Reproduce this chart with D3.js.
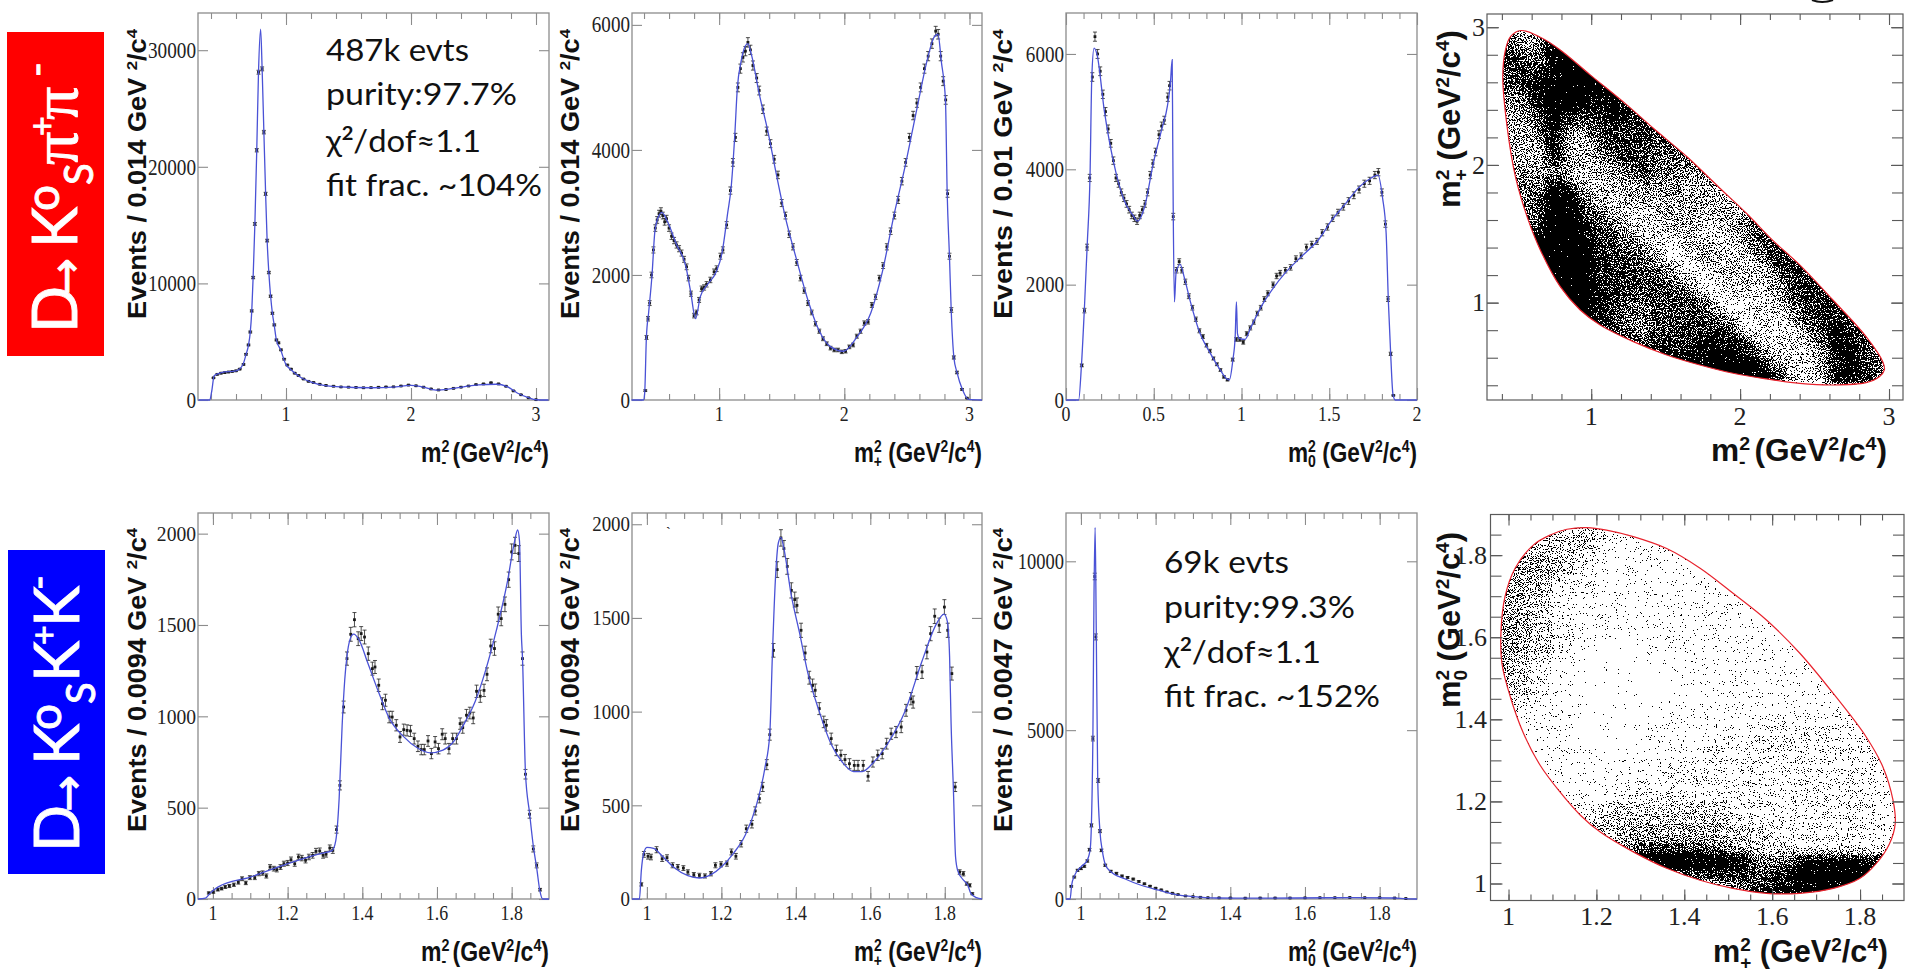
<!DOCTYPE html>
<html>
<head>
<meta charset="utf-8">
<script src="https://cdn.jsdelivr.net/npm/d3@7"></script>
<style>
  html, body { margin: 0; background: #fff; }
  svg { display: block; }
  .tick-label { font-family: "Liberation Serif", serif; fill: #222; }
  .bold-label { font-family: "Liberation Sans", Arial, sans-serif; font-weight: bold; fill: #111; }
  .note { font-family: Lato, "Open Sans", sans-serif; fill: #111; }
</style>
</head>
<body>
<div id="container"></div>
<script>
/* DATA */

// D -> Ks pi+ pi-, m-^2
const pipiMinusFitX = [0.3,0.39,0.405,0.426,0.483,0.6,0.654,0.68,0.70,0.714,0.726,0.737,0.751,0.766,0.78,0.797,0.809,0.823,0.837,0.849,0.863,0.877,0.891,0.906,0.923,0.957,0.997,1.04,1.11,1.226,1.4,1.68,1.854,2.0,2.08,2.2,2.31,2.43,2.54,2.68,2.77,2.85,2.94,3.0,3.1];
const pipiMinusFitY = [0,0,700,2100,2350,2500,3000,3900,4700,5800,7600,10500,15100,21400,28100,31800,28400,23000,17700,13700,10900,8900,7450,6400,5150,4300,3100,2600,2000,1450,1150,1050,1100,1250,1150,850,950,1150,1300,1350,1150,600,200,20,0];
const pipiMinusDataX = [0.42,0.45,0.48,0.51,0.54,0.57,0.6,0.63,0.66,0.68,0.70,0.714,0.726,0.737,0.751,0.766,0.78,0.809,0.823,0.837,0.849,0.863,0.877,0.891,0.906,0.923,0.94,0.96,0.985,1.01,1.04,1.07,1.1,1.14,1.18,1.22,1.27,1.32,1.38,1.44,1.5,1.56,1.62,1.68,1.74,1.8,1.86,1.92,1.98,2.04,2.1,2.16,2.22,2.28,2.34,2.4,2.46,2.52,2.58,2.64,2.7,2.76,2.82,2.88,2.94,3.0];
const pipiMinusDataY = [1900,2200,2300,2350,2400,2450,2500,2650,3050,3920,4720,5830,7640,10500,15100,21420,28110,28400,22970,17680,13670,10930,8900,7440,6440,5150,4900,4300,3500,3000,2650,2300,2100,1800,1600,1500,1350,1250,1180,1120,1100,1080,1050,1060,1090,1120,1130,1200,1280,1220,1100,950,860,900,1000,1100,1200,1320,1380,1480,1380,1180,780,450,190,30];

// D -> Ks pi+ pi-, m+^2
const pipiPlusFitX = [0.3,0.395,0.405,0.419,0.437,0.464,0.487,0.519,0.542,0.588,0.657,0.735,0.771,0.812,0.849,0.908,0.977,1.023,1.069,1.096,1.124,1.146,1.174,1.206,1.229,1.261,1.32,1.389,1.458,1.526,1.618,1.709,1.801,1.892,1.993,2.098,2.213,2.304,2.396,2.487,2.579,2.67,2.716,2.748,2.776,2.808,2.822,2.84,2.854,2.876,2.899,2.945,2.991,3.1];
const pipiPlusFitY = [0,0,100,1000,1400,2000,2700,2950,3000,2850,2500,2130,1750,1300,1650,1850,2050,2350,3000,3400,4200,5000,5400,5650,5700,5500,4900,4300,3600,2950,2250,1600,1100,850,780,1000,1400,2050,2950,3750,4650,5500,5800,5850,5400,4800,3300,2300,1440,670,450,160,10,0];
const pipiPlusDataX = [0.41,0.42,0.432,0.445,0.46,0.475,0.49,0.505,0.52,0.535,0.55,0.565,0.58,0.6,0.62,0.64,0.66,0.68,0.7,0.72,0.74,0.755,0.775,0.8,0.82,0.84,0.86,0.88,0.9,0.93,0.96,0.98,1.01,1.03,1.06,1.09,1.11,1.13,1.15,1.17,1.19,1.21,1.23,1.25,1.27,1.3,1.32,1.35,1.38,1.41,1.44,1.47,1.5,1.53,1.56,1.59,1.62,1.65,1.68,1.71,1.74,1.77,1.8,1.83,1.86,1.89,1.92,1.95,1.98,2.01,2.04,2.07,2.1,2.13,2.16,2.19,2.22,2.25,2.28,2.31,2.34,2.37,2.4,2.43,2.46,2.49,2.52,2.55,2.58,2.61,2.64,2.67,2.7,2.73,2.75,2.77,2.79,2.81,2.825,2.84,2.855,2.875,2.9,2.94,2.98];
const pipiPlusDataY = [150,1000,1300,1550,2000,2400,2750,2880,2980,3020,2950,2850,2900,2750,2620,2550,2480,2420,2350,2250,2130,1950,1700,1350,1400,1600,1780,1800,1850,1920,2050,2100,2300,2400,2800,3350,3800,4200,5000,5300,5480,5580,5720,5600,5350,5150,4950,4650,4300,4100,3850,3600,3150,2950,2650,2450,2200,1950,1750,1550,1400,1220,1100,980,900,830,800,800,770,780,850,880,1020,1100,1230,1250,1520,1650,1950,2150,2450,2700,2950,3200,3500,3800,4200,4550,4750,5000,5300,5500,5700,5900,5850,5500,5100,4800,3300,2300,1440,680,440,170,30];

// D -> Ks pi+ pi-, m0^2
const pipiZeroFitX = [0,0.072,0.088,0.105,0.121,0.137,0.147,0.16,0.176,0.219,0.284,0.333,0.382,0.408,0.448,0.497,0.546,0.578,0.595,0.605,0.608,0.611,0.618,0.627,0.65,0.676,0.709,0.758,0.824,0.873,0.915,0.931,0.951,0.964,0.971,0.977,0.987,1.02,1.052,1.118,1.183,1.248,1.346,1.444,1.51,1.592,1.673,1.739,1.778,1.804,1.824,1.837,1.85,1.863,1.876,2];
const pipiZeroFitY = [0,0,600,1600,2700,3900,5600,6100,6000,5000,3950,3450,3200,3100,3350,4100,4700,5100,5500,5900,4600,3300,1700,2200,2350,2100,1700,1200,800,550,370,350,700,1100,1700,1150,1070,1050,1250,1650,1950,2200,2500,2800,3100,3400,3700,3850,3900,3500,2900,1700,800,100,0,0];
const pipiZeroDataX = [0.09,0.105,0.12,0.135,0.15,0.165,0.18,0.195,0.21,0.225,0.24,0.255,0.27,0.285,0.3,0.315,0.33,0.345,0.36,0.375,0.39,0.405,0.42,0.435,0.45,0.465,0.48,0.495,0.51,0.53,0.545,0.56,0.58,0.59,0.611,0.63,0.645,0.66,0.68,0.7,0.72,0.74,0.76,0.78,0.8,0.82,0.84,0.86,0.88,0.9,0.92,0.95,0.97,0.99,1.01,1.03,1.05,1.07,1.09,1.11,1.13,1.15,1.18,1.2,1.22,1.25,1.28,1.31,1.34,1.37,1.4,1.43,1.46,1.49,1.52,1.55,1.58,1.61,1.64,1.67,1.7,1.73,1.76,1.78,1.8,1.82,1.835,1.85,1.865];
const pipiZeroDataY = [600,1550,2650,3850,5600,6300,6000,5700,5300,5000,4700,4450,4150,3850,3750,3600,3500,3400,3300,3200,3150,3100,3200,3300,3400,3600,3900,4100,4300,4600,4750,4850,5250,5450,3180,2250,2400,2250,2050,1800,1600,1400,1200,1100,950,850,720,620,520,400,350,700,1050,1050,1000,1150,1250,1350,1500,1600,1750,1850,2000,2150,2200,2250,2300,2450,2500,2650,2700,2750,2900,3000,3150,3250,3350,3450,3550,3650,3750,3800,3900,3950,3600,3050,1750,800,80];

// D -> Ks K+ K-, m-^2
const kkMinusFitX = [0.96,0.98,0.994,1.013,1.1,1.195,1.29,1.319,1.329,1.338,1.346,1.353,1.359,1.367,1.377,1.391,1.415,1.444,1.472,1.51,1.549,1.582,1.616,1.644,1.673,1.702,1.73,1.759,1.788,1.807,1.816,1.821,1.826,1.829,1.837,1.848,1.858,1.867,1.876,1.883,1.9];
const kkMinusFitY = [0,5,35,65,120,190,250,265,320,550,950,1200,1330,1420,1450,1420,1290,1130,990,890,825,800,815,860,960,1080,1250,1470,1730,1950,2020,1960,1450,1320,690,470,290,170,40,0,0];
const kkMinusDataX = [0.989,1.001,1.013,1.023,1.033,1.044,1.056,1.068,1.078,1.088,1.099,1.112,1.123,1.133,1.143,1.153,1.163,1.171,1.181,1.19,1.2,1.209,1.219,1.229,1.238,1.248,1.257,1.267,1.276,1.286,1.295,1.303,1.313,1.321,1.331,1.34,1.35,1.359,1.369,1.379,1.389,1.397,1.406,1.416,1.427,1.434,1.444,1.454,1.462,1.472,1.48,1.491,1.501,1.511,1.52,1.529,1.539,1.549,1.558,1.566,1.576,1.585,1.595,1.604,1.614,1.622,1.632,1.642,1.652,1.662,1.669,1.679,1.688,1.697,1.706,1.716,1.726,1.734,1.744,1.754,1.764,1.772,1.782,1.792,1.8,1.809,1.819,1.829,1.837,1.848,1.858,1.867,1.876];
const kkMinusDataY = [33,38,51,57,66,71,78,91,111,88,117,117,139,142,126,175,166,161,175,193,197,215,193,230,224,212,230,239,261,263,239,245,279,266,380,622,1051,1316,1449,1529,1425,1453,1434,1343,1261,1270,1170,1069,1088,996,996,951,887,927,923,920,878,836,818,818,865,796,860,823,902,878,823,878,878,960,938,1006,1018,991,1137,1110,1142,1230,1385,1371,1559,1535,1613,1748,1900,1936,1891,1316,683,464,274,184,51];

// D -> Ks K+ K-, m+^2
const kkPlusFitX = [0.96,0.98,0.985,0.991,1.0,1.018,1.041,1.072,1.11,1.141,1.172,1.202,1.233,1.264,1.294,1.317,1.33,1.337,1.345,1.353,1.36,1.368,1.387,1.41,1.433,1.463,1.494,1.525,1.555,1.578,1.609,1.647,1.693,1.739,1.778,1.798,1.807,1.813,1.817,1.823,1.829,1.835,1.847,1.862,1.87,1.885,1.9];
const kkPlusFitY = [0,0,150,240,275,270,230,170,125,112,130,175,245,340,500,700,880,1300,1700,1900,1930,1870,1630,1420,1200,1000,830,730,680,680,730,830,1000,1270,1470,1520,1480,1290,936,598,224,150,108,73,30,7,0];
const kkPlusDataX = [0.985,0.992,1.003,1.011,1.026,1.041,1.054,1.069,1.083,1.098,1.11,1.126,1.141,1.156,1.172,1.184,1.199,1.215,1.227,1.239,1.253,1.267,1.282,1.291,1.302,1.311,1.322,1.33,1.34,1.35,1.36,1.368,1.377,1.388,1.397,1.403,1.414,1.425,1.436,1.445,1.452,1.463,1.475,1.482,1.495,1.509,1.521,1.532,1.544,1.557,1.567,1.581,1.594,1.607,1.62,1.632,1.644,1.656,1.669,1.683,1.696,1.709,1.715,1.725,1.739,1.752,1.762,1.773,1.785,1.799,1.808,1.819,1.828,1.84,1.85,1.859,1.867,1.874];
const kkPlusDataY = [78,238,228,224,263,215,221,180,171,165,144,130,126,123,135,180,185,189,251,228,295,375,399,470,536,598,717,877,1327,1758,1927,1870,1775,1647,1598,1567,1434,1313,1181,1140,1114,1016,945,927,856,793,767,744,722,713,713,713,655,731,767,776,829,882,891,918,1007,1069,1051,1206,1212,1318,1416,1509,1461,1558,1434,1203,598,144,135,82,73,28];

// D -> Ks K+ K-, m0^2
const kkZeroFitX = [0.96,0.971,0.975,0.983,1.0,1.017,1.025,1.028,1.032,1.035,1.038,1.041,1.045,1.051,1.057,1.066,1.078,1.117,1.163,1.209,1.255,1.301,1.362,1.424,1.578,1.731,1.839,1.869,1.9];
const kkZeroFitY = [0,0,400,700,950,1150,1500,2200,4800,9000,11000,8000,3500,2000,1450,1000,830,600,400,260,130,70,30,25,30,40,30,10,0];
const kkZeroDataX = [0.974,0.982,0.991,1.0,1.009,1.017,1.023,1.028,1.032,1.037,1.04,1.046,1.051,1.055,1.065,1.08,1.095,1.11,1.125,1.14,1.155,1.17,1.185,1.2,1.215,1.23,1.245,1.26,1.28,1.3,1.32,1.34,1.37,1.4,1.44,1.48,1.52,1.56,1.6,1.64,1.68,1.72,1.76,1.8,1.84,1.87];
const kkZeroDataY = [375,650,850,900,970,1125,1460,2180,4750,9550,7760,3510,2010,1440,1000,820,760,680,640,590,520,450,380,320,270,210,170,130,90,70,50,40,35,30,25,30,30,30,35,40,40,45,40,40,30,15];

// Dalitz plot boundaries, [x, y] in GeV2/c4
const pipiBoundary = [[0.529,2.976],[0.658,2.927],[0.792,2.835],[0.993,2.654],[1.239,2.436],[1.417,2.266],[1.641,2.061],[1.864,1.831],[2.042,1.649],[2.221,1.45],[2.4,1.274],[2.623,1.019],[2.846,0.753],[2.958,0.571],[2.969,0.511],[2.935,0.462],[2.846,0.419],[2.623,0.402],[2.4,0.414],[2.176,0.446],[1.953,0.487],[1.73,0.547],[1.507,0.62],[1.283,0.717],[1.06,0.838],[0.926,0.947],[0.792,1.116],[0.658,1.383],[0.569,1.625],[0.491,1.915],[0.435,2.278],[0.406,2.642],[0.424,2.835],[0.458,2.932]];
const kkBoundary = [[1.178,1.867],[1.223,1.861],[1.284,1.845],[1.36,1.816],[1.436,1.768],[1.511,1.707],[1.587,1.642],[1.663,1.561],[1.739,1.463],[1.814,1.357],[1.852,1.284],[1.875,1.203],[1.88,1.146],[1.867,1.097],[1.837,1.049],[1.799,1.012],[1.739,0.988],[1.663,0.976],[1.587,0.976],[1.511,0.988],[1.436,1.008],[1.36,1.037],[1.284,1.077],[1.208,1.126],[1.163,1.167],[1.117,1.223],[1.072,1.288],[1.034,1.366],[1.004,1.455],[0.985,1.536],[0.983,1.617],[0.992,1.699],[1.015,1.768],[1.057,1.825],[1.095,1.849],[1.133,1.863]];

// Dalitz plot event density, 0 (empty) to 9 (solid), estimated by eye per cell.
const pipiColEdges = [0.3,0.4,0.5,0.6,0.7,0.8,0.9,1.0,1.1,1.2,1.3,1.4,1.5,1.6,1.7,1.8,1.9,2.0,2.1,2.2,2.3,2.4,2.5,2.6,2.7,2.8,2.9,3.0,3.1];
const pipiRowEdges = [3.0,2.9,2.8,2.7,2.6,2.5,2.4,2.3,2.2,2.1,2.0,1.9,1.8,1.7,1.6,1.5,1.4,1.3,1.2,1.1,1.0,0.9,0.8,0.7,0.6,0.5,0.4];
const pipiDensity = [
  [5,5,3,4,8,9,9,8,8],
  [6,6,4,4,8,9,9,9,8,8],
  [7,7,6,5,8,9,9,9,8,8],
  [6,6,7,7,8,9,9,8,8,8,8],
  [5,5,6,8,9,9,9,8,8,8,8],
  [4,4,5,7,9,9,8,8,8,7,7,7],
  [3,3,4,6,8,7,6,7,8,7,7,7,7],
  [3,3,3,5,8,4,4,6,7,7,7,6,6,6],
  [3,3,3,3,8,3,3,5,7,7,6,6,6,6,6],
  [3,3,3,3,7,4,3,3,5,7,6,5,5,5,5,5],
  [4,4,4,3,4,3,2,3,3,5,7,5,4,4,4,4,4],
  [5,5,5,4,8,6,3,2,3,3,4,4,4,3,3,3,3,3],
  [5,5,5,6,9,9,5,3,2,3,3,3,3,3,3,3,3,3,3],
  [5,5,5,5,9,9,6,5,3,2,2,3,3,3,3,3,3,4,5,5],
  [6,6,6,6,9,9,8,6,5,3,2,2,3,3,2,2,3,5,6,6,6],
  [9,9,9,9,9,9,8,7,6,5,3,2,2,3,3,2,2,4,6,7,7,7],
  [9,9,9,9,9,9,9,7,6,6,5,3,1,2,3,3,2,3,5,7,7,7,7],
  [9,9,9,9,9,9,9,7,7,6,6,5,3,1,2,3,3,2,3,6,7,7,7,7],
  [9,9,9,9,9,9,9,7,7,6,6,6,5,3,1,2,3,3,2,4,6,7,7,7,7],
  [9,9,9,9,9,9,9,8,7,6,5,6,6,6,4,1,2,2,2,3,6,7,7,7,7,7],
  [9,9,9,9,9,9,9,7,6,5,5,6,6,6,6,4,1,2,2,2,4,7,7,7,7,7],
  [8,8,8,8,8,8,8,8,6,5,4,6,6,6,7,6,4,1,2,2,3,5,7,7,7,6,6],
  [6,6,6,6,6,6,6,6,6,6,5,6,6,7,7,7,7,4,2,2,2,3,6,8,7,6,6,6],
  [7,7,7,7,7,7,7,7,7,7,7,7,7,7,8,8,8,7,4,2,2,2,4,8,8,6,5,5],
  [8,8,8,8,8,8,8,8,8,8,8,8,8,8,8,8,9,9,7,4,2,2,3,7,8,6,5,5],
  [8,8,8,8,8,8,8,8,8,8,8,8,8,8,8,8,8,8,9,7,3,2,3,8,8,7,6,6]
];
const kkColEdges = [0.95,1.0,1.05,1.1,1.15,1.2,1.25,1.3,1.35,1.4,1.45,1.5,1.55,1.6,1.65,1.7,1.75,1.8,1.85,1.9];
const kkRowEdges = [1.9,1.85,1.8,1.75,1.7,1.65,1.6,1.55,1.5,1.45,1.4,1.35,1.3,1.25,1.2,1.15,1.1,1.07,1.04,1.01,0.98,0.95];
const kkDensity = [
  [3,3,3,3,3,2,2,1,1],
  [4,4,3,3,3,2,1,1,1,1],
  [4,4,4,3,2,1,1,1,1,1],
  [4,4,3,2,2,1,1,1,1,1,1],
  [4,4,3,2,1,1,1,1,1,1,1,1],
  [4,4,3,2,1,1,1,1,1,1,1,1,1],
  [4,4,3,2,1,0,0,1,1,1,1,1,1,1],
  [4,3,2,1,0,0,0,0,1,1,1,1,1,1,1],
  [4,3,2,1,0,0,0,0,0,1,1,1,1,1,1,1],
  [3,2,1,1,0,0,0,0,1,1,1,1,1,1,1,1,1],
  [1,1,1,1,0,0,0,1,1,1,1,1,2,2,2,2,2,2],
  [1,1,1,1,1,0,1,1,1,1,2,2,2,2,2,2,2,2,2],
  [1,1,1,1,1,1,1,1,2,2,2,2,2,2,2,2,2,2,2],
  [1,1,1,1,1,1,2,2,2,2,2,2,2,2,2,2,2,2,1],
  [2,2,2,2,2,3,3,3,3,3,3,2,2,2,2,2,2,2,1],
  [3,3,3,3,3,3,4,4,4,4,4,3,3,2,2,2,2,2,2],
  [5,5,5,5,5,5,5,6,6,6,5,4,3,3,2,2,2,2,2],
  [7,7,7,7,7,7,8,9,9,9,9,8,5,5,7,8,8,7,7],
  [9,9,9,9,9,9,9,8,7,6,7,7,6,7,9,9,9,9,9],
  [3,3,3,3,3,3,3,3,3,3,4,5,6,7,8,9,9,9,9],
  [3,3,3,3,3,3,3,3,3,3,4,5,7,8,8,9,9,9,9]
];

// tick labels
const pipiTicks = [1, 2, 3];
const pipiZeroTicks = [0, 0.5, 1, 1.5, 2];
const kkTicks = [1, 1.2, 1.4, 1.6, 1.8];

/* LAYOUT */
const width = 1905, height = 972;
const rowTop = { top: 13, bottom: 400 };
const rowBottom = { top: 513, bottom: 899 };
const colA = { left: 198, right: 549 };
const colB = { left: 632, right: 982 };
const colC = { left: 1066, right: 1417 };

const svg = d3.select("#container").append("svg")
  .attr("width", width).attr("height", height)
  .attr("viewBox", `0 0 ${width} ${height}`);
const defs = svg.append("defs");

const range = (a, b, s) => d3.range(a, b + s / 2, s).map(v => +v.toFixed(3));

function frameAxes(g, x, y, o) {
  const { left, right, top, bottom } = o.box;
  const color = o.color;
  // minor + major ticks on all four sides, all pointing inward
  const put = (axis, tr) => {
    const a = g.append("g").attr("transform", tr).call(axis);
    a.selectAll("text").remove();
    a.select(".domain").remove();
    a.selectAll("line").attr("stroke", color).attr("stroke-width", 1.1);
  };
  const xDom = x.domain(), yDom = y.domain();
  const xMinor = o.xMinor.filter(v => v >= xDom[0] && v <= xDom[1]);
  put(d3.axisBottom(x).tickValues(xMinor).tickSize(-o.minorLen), `translate(0,${bottom})`);
  put(d3.axisTop(x).tickValues(xMinor).tickSize(-o.minorLen), `translate(0,${top})`);
  put(d3.axisBottom(x).tickValues(o.xTicks).tickSize(-o.majorLen), `translate(0,${bottom})`);
  put(d3.axisTop(x).tickValues(o.xTicks).tickSize(-o.majorLen), `translate(0,${top})`);
  if (o.yMinor) {
    const yMinor = o.yMinor.filter(v => v >= yDom[0] && v <= yDom[1]);
    put(d3.axisLeft(y).tickValues(yMinor).tickSize(-o.yMinorLen), `translate(${left},0)`);
    put(d3.axisRight(y).tickValues(yMinor).tickSize(-o.yMinorLen), `translate(${right},0)`);
  }
  put(d3.axisLeft(y).tickValues(o.yTicks).tickSize(-o.yMajorLen), `translate(${left},0)`);
  put(d3.axisRight(y).tickValues(o.yTicks).tickSize(-o.yMajorLen), `translate(${right},0)`);

  g.append("rect").attr("x", left).attr("y", top)
    .attr("width", right - left).attr("height", bottom - top)
    .attr("fill", "none").attr("stroke", color).attr("stroke-width", o.frameWidth || 1.3);

  // tick labels
  g.selectAll(null).data(o.xTicks).join("text")
    .attr("class", "tick-label")
    .attr("x", d => x(d)).attr("y", o.xLabelY)
    .attr("text-anchor", "middle").attr("font-size", o.labelSize)
    .attr("transform", d => `translate(${x(d)},0) scale(${o.xSquash || 1},1) translate(${-x(d)},0)`)
    .text(d => d);
  const ySize = o.yLabelSize || o.labelSize;
  g.selectAll(null).data(o.yTicks).join("text")
    .attr("class", "tick-label")
    .attr("x", o.yLabelX).attr("y", d => y(d) + ySize * 0.33)
    .attr("text-anchor", "end").attr("font-size", ySize)
    .attr("transform", `translate(${o.yLabelX},0) scale(${o.ySquash || 1},1) translate(${-o.yLabelX},0)`)
    .text(d => d);
}

function eventsTitle(x, bottomY, topY, binWidth, size) {
  const t = svg.append("text").attr("class", "bold-label")
    .attr("transform", `translate(${x},${bottomY}) rotate(-90)`)
    .attr("font-size", size)
    .attr("textLength", bottomY - topY).attr("lengthAdjust", "spacingAndGlyphs");
  t.append("tspan").text(`Events / ${binWidth} GeV `);
  t.append("tspan").attr("font-size", size * 0.62).attr("dy", -size * 0.36).text("2");
  t.append("tspan").attr("dy", size * 0.36).text("/c");
  t.append("tspan").attr("font-size", size * 0.62).attr("dy", -size * 0.36).text("4");
}

// m^2 label with the charge sign stacked under the square
function massTitle(parent, sign, size, len, transform) {
  const t = parent.append("text").attr("class", "bold-label")
    .attr("transform", transform).attr("font-size", size)
    .attr("textLength", len).attr("lengthAdjust", "spacingAndGlyphs");
  const small = size * 0.62;
  t.append("tspan").text("m");
  t.append("tspan").attr("font-size", small).attr("dy", -size * 0.34).text("2");
  t.append("tspan").attr("font-size", small).attr("dx", -small * 0.56).attr("dy", size * 0.56).text(sign);
  t.append("tspan").attr("dy", -size * 0.22).text(" (GeV");
  t.append("tspan").attr("font-size", small).attr("dy", -size * 0.36).text("2");
  t.append("tspan").attr("dy", size * 0.36).text("/c");
  t.append("tspan").attr("font-size", small).attr("dy", -size * 0.36).text("4");
  t.append("tspan").attr("dy", size * 0.36).text(")");
}

function histogram(o) {
  const box = { ...o.col, ...o.row };
  const x = d3.scaleLinear().domain(o.xDomain).range([box.left, box.right]);
  const y = d3.scaleLinear().domain(o.yDomain).range([box.bottom, box.top]);
  const g = svg.append("g");

  frameAxes(g, x, y, {
    box, color: "#8c8c8c", xTicks: o.xTicks, xMinor: o.xMinor, yTicks: o.yTicks,
    majorLen: 12, minorLen: 6, yMajorLen: 10,
    labelSize: 21, yLabelSize: o.yLabelSize, xLabelY: box.bottom + 21.5, yLabelX: box.left - 2,
    xSquash: 0.85, ySquash: o.ySquash
  });

  const pts = d3.zip(o.dataX, o.dataY);
  // error bars: sqrt(N)
  g.append("g").selectAll("path").data(pts).join("path")
    .attr("d", d => {
      const s = Math.sqrt(d[1]);
      const px = x(d[0]), hi = y(d[1] + s), lo = y(d[1] - s);
      return `M${px},${hi}V${lo}M${px - 2},${hi}h4M${px - 2},${lo}h4`;
    })
    .attr("stroke", "#222").attr("stroke-width", 0.8).attr("fill", "none");
  g.append("g").selectAll("rect").data(pts).join("rect")
    .attr("x", d => x(d[0]) - 1.4).attr("y", d => y(d[1]) - 1.4)
    .attr("width", 2.8).attr("height", 2.8).attr("fill", "#1a1a1a");

  const line = d3.line().x(d => x(d[0])).y(d => y(d[1])).curve(d3.curveMonotoneX);
  g.append("path").datum(d3.zip(o.fitX, o.fitY)).attr("d", line)
    .attr("fill", "none").attr("stroke", "#4a52d6").attr("stroke-width", 1.3);

  eventsTitle(o.titleX, o.titleBottom, o.titleTop, o.binWidth, 25);
  massTitle(svg, o.sign, 27, box.right - o.massLeft, `translate(${o.massLeft},${box.bottom + 61.5})`);
}

// grey cells + noise, thresholded, give the stippled look of the scatter plots
function stippleFilter(id, freq, gain, seed, blur) {
  const f = defs.append("filter").attr("id", id)
    .attr("x", "-5%").attr("y", "-5%").attr("width", "110%").attr("height", "110%")
    .attr("color-interpolation-filters", "sRGB");
  f.append("feGaussianBlur").attr("in", "SourceGraphic").attr("stdDeviation", blur).attr("result", "soft");
  f.append("feTurbulence").attr("type", "fractalNoise").attr("baseFrequency", freq)
    .attr("numOctaves", 3).attr("seed", seed).attr("result", "raw");
  const off = 0.5 - gain * 0.5;
  f.append("feColorMatrix").attr("in", "raw").attr("type", "matrix")
    .attr("values", `${gain} 0 0 0 ${off} ${gain} 0 0 0 ${off} ${gain} 0 0 0 ${off} 0 0 0 0 1`)
    .attr("result", "grain");
  f.append("feComposite").attr("in", "soft").attr("in2", "grain").attr("operator", "arithmetic")
    .attr("k1", 0).attr("k2", 0.5).attr("k3", 0.5).attr("k4", 0).attr("result", "sum");
  const t = f.append("feComponentTransfer").attr("in", "sum");
  ["feFuncR", "feFuncG", "feFuncB"].forEach(c => t.append(c).attr("type", "discrete").attr("tableValues", "0 1"));
  t.append("feFuncA").attr("type", "linear").attr("slope", 0).attr("intercept", 1);
}
stippleFilter("stipplePi", 0.83, 1.6, 7, 5);
stippleFilter("stippleKk", 0.91, 1.6, 11, 4);

function dalitz(o) {
  const box = o.box;
  const x = d3.scaleLinear().domain(o.xDomain).range([box.left, box.right]);
  const y = d3.scaleLinear().domain(o.yDomain).range([box.bottom, box.top]);
  const grey = d3.scaleLinear().domain(o.greyDomain).range(o.greyRange).clamp(true);
  const g = svg.append("g");
  const outline = d3.line().x(d => x(d[0])).y(d => y(d[1])).curve(d3.curveCatmullRomClosed);

  defs.append("clipPath").attr("id", o.id + "Clip").append("path").attr("d", outline(o.boundary));
  const cells = g.append("g").attr("clip-path", `url(#${o.id}Clip)`)
    .append("g").attr("filter", `url(#${o.filter})`);
  cells.append("rect").attr("x", box.left).attr("y", box.top)
    .attr("width", box.right - box.left).attr("height", box.bottom - box.top).attr("fill", "#fff");
  const cellData = o.density.flatMap((row, r) => row.map((d, c) => ({ d, r, c })));
  cells.selectAll(null).data(cellData).join("rect")
    .attr("x", d => x(o.colEdges[d.c])).attr("y", d => y(o.rowEdges[d.r]))
    .attr("width", d => x(o.colEdges[d.c + 1]) - x(o.colEdges[d.c]) + 0.5)
    .attr("height", d => y(o.rowEdges[d.r + 1]) - y(o.rowEdges[d.r]) + 0.5)
    .attr("fill", d => { const v = Math.round(grey(d.d) * 255); return `rgb(${v},${v},${v})`; });

  g.append("path").attr("d", outline(o.boundary)).attr("fill", "none")
    .attr("stroke", "#e8222c").attr("stroke-width", 1.2);

  frameAxes(g, x, y, {
    box, color: "#5a5a5a", xTicks: o.xTicks, xMinor: o.xMinor, yTicks: o.xTicks, yMinor: o.yMinor,
    majorLen: 11, minorLen: 6, yMajorLen: 12, yMinorLen: 11,
    labelSize: 26, xLabelY: o.xLabelY, yLabelX: o.yLabelX, frameWidth: 1.2
  });

  massTitle(svg, o.ySign, 31, o.yTitleLen, `translate(${o.yTitleX},${o.yTitleBottom}) rotate(-90)`);
  massTitle(svg, o.xSign, 31, o.xTitleLen, `translate(${o.xTitleLeft},${o.xTitleY})`);
}

function note(lines, x, ys, widths) {
  lines.forEach((l, i) => {
    const t = svg.append("text").attr("class", "note").attr("x", x).attr("y", ys[i])
      .attr("font-size", 31).attr("textLength", widths[i]).attr("lengthAdjust", "spacingAndGlyphs");
    if (l.length === 3) {
      t.append("tspan").text(l[0]);
      t.append("tspan").attr("font-size", 19).attr("dy", -12).attr("font-weight", "bold").text(l[1]);
      t.append("tspan").attr("dy", 12).text(l[2]);
    } else t.text(l[0]);
  });
}

// rotated coloured decay label, one glyph at a time: [text, u along box, offset across, size, font]
const serifPi = "Liberation Serif", arrowFont = "DejaVu Sans";
function decayBox(color, b, glyphs) {
  svg.append("rect").attr("x", b.x0).attr("y", b.y0).attr("width", b.x1 - b.x0).attr("height", b.y1 - b.y0).attr("fill", color);
  const t = svg.append("text").attr("transform", `translate(${b.baseX},${b.baseY}) rotate(-90)`)
    .attr("fill", "#fff").attr("stroke", "#fff").attr("stroke-width", 0.9)
    .attr("font-family", "Lato, 'Open Sans', sans-serif");
  glyphs.forEach(g => {
    const s = t.append("tspan").attr("x", g[1]).attr("y", g[2]).attr("font-size", g[3]).text(g[0]);
    if (g[4]) s.attr("font-family", g[4]);
  });
}

/* DRAW */
histogram({ col: colA, row: rowTop, xDomain: [0.296, 3.104], yDomain: [0, 33190],
  xTicks: pipiTicks, xMinor: range(0.4, 3, 0.2), yTicks: [0, 10000, 20000, 30000], ySquash: 0.8, yLabelSize: 24,
  fitX: pipiMinusFitX, fitY: pipiMinusFitY, dataX: pipiMinusDataX, dataY: pipiMinusDataY,
  titleX: 145.5, titleBottom: 319, titleTop: 29, binWidth: "0.014", sign: "-", massLeft: 421 });
histogram({ col: colB, row: rowTop, xDomain: [0.304, 3.1], yDomain: [0, 6190],
  xTicks: pipiTicks, xMinor: range(0.4, 3, 0.2), yTicks: [0, 2000, 4000, 6000], ySquash: 0.83, yLabelSize: 23,
  fitX: pipiPlusFitX, fitY: pipiPlusFitY, dataX: pipiPlusDataX, dataY: pipiPlusDataY,
  titleX: 578.5, titleBottom: 319, titleTop: 29, binWidth: "0.014", sign: "+", massLeft: 854 });
histogram({ col: colC, row: rowTop, xDomain: [0, 2], yDomain: [0, 6710],
  xTicks: pipiZeroTicks, xMinor: range(0.1, 1.9, 0.1), yTicks: [0, 2000, 4000, 6000], ySquash: 0.83, yLabelSize: 23,
  fitX: pipiZeroFitX, fitY: pipiZeroFitY, dataX: pipiZeroDataX, dataY: pipiZeroDataY,
  titleX: 1012, titleBottom: 319, titleTop: 29, binWidth: "0.01", sign: "0", massLeft: 1288 });

histogram({ col: colA, row: rowBottom, xDomain: [0.96, 1.9], yDomain: [0, 2113],
  xTicks: kkTicks, xMinor: range(1, 1.85, 0.05), yTicks: [0, 500, 1000, 1500, 2000], ySquash: 0.89, yLabelSize: 22,
  fitX: kkMinusFitX, fitY: kkMinusFitY, dataX: kkMinusDataX, dataY: kkMinusDataY,
  titleX: 145.5, titleBottom: 832, titleTop: 528, binWidth: "0.0094", sign: "-", massLeft: 421 });
histogram({ col: colB, row: rowBottom, xDomain: [0.96, 1.9], yDomain: [0, 2060],
  xTicks: kkTicks, xMinor: range(1, 1.85, 0.05), yTicks: [0, 500, 1000, 1500, 2000], ySquash: 0.86, yLabelSize: 22,
  fitX: kkPlusFitX, fitY: kkPlusFitY, dataX: kkPlusDataX, dataY: kkPlusDataY,
  titleX: 578.5, titleBottom: 832, titleTop: 528, binWidth: "0.0094", sign: "+", massLeft: 854 });
histogram({ col: colC, row: rowBottom, xDomain: [0.96, 1.9], yDomain: [0, 11430],
  xTicks: kkTicks, xMinor: range(1, 1.85, 0.05), yTicks: [0, 5000, 10000], ySquash: 0.77, yLabelSize: 24,
  fitX: kkZeroFitX, fitY: kkZeroFitY, dataX: kkZeroDataX, dataY: kkZeroDataY,
  titleX: 1012, titleBottom: 832, titleTop: 528, binWidth: "0.0047", sign: "0", massLeft: 1288 });

dalitz({ id: "pipi", filter: "stipplePi", box: { left: 1487, right: 1903, top: 14, bottom: 400 },
  xDomain: [0.3, 3.094], yDomain: [0.293, 3.096], boundary: pipiBoundary,
  colEdges: pipiColEdges, rowEdges: pipiRowEdges, density: pipiDensity,
  greyDomain: [0, 1, 2, 3, 5, 7, 9], greyRange: [0.92, 0.8, 0.68, 0.58, 0.46, 0.32, 0.04],
  xTicks: pipiTicks, xMinor: range(0.4, 3, 0.2), yMinor: range(0.4, 3, 0.2),
  xLabelY: 425, yLabelX: 1485, ySign: "+", xSign: "-",
  yTitleX: 1460, yTitleBottom: 208, yTitleLen: 178, xTitleLeft: 1711, xTitleY: 461, xTitleLen: 176 });
dalitz({ id: "kk", filter: "stippleKk", box: { left: 1490.5, right: 1904, top: 514.5, bottom: 900.5 },
  xDomain: [0.959, 1.9], yDomain: [0.9586, 1.899], boundary: kkBoundary,
  colEdges: kkColEdges, rowEdges: kkRowEdges, density: kkDensity,
  greyDomain: [0, 1, 2, 3, 5, 7, 9], greyRange: [0.97, 0.86, 0.77, 0.66, 0.5, 0.27, 0.05],
  xTicks: kkTicks, xMinor: range(1, 1.85, 0.05), yMinor: range(1, 1.85, 0.05),
  xLabelY: 925, yLabelX: 1487, ySign: "0", xSign: "+",
  yTitleX: 1460, yTitleBottom: 708, yTitleLen: 176, xTitleLeft: 1713, xTitleY: 962, xTitleLen: 175 });

note([["487k evts"], ["purity:97.7%"], ["χ", "2", "/dof≈1.1"], ["fit frac. ~104%"]], 326, [61, 105, 152, 196], [143, 191, 155, 216]);
note([["69k evts"], ["purity:99.3%"], ["χ", "2", "/dof≈1.1"], ["fit frac. ~152%"]], 1164, [573, 618, 663, 707], [125, 191, 157, 216]);

decayBox("#ff0000", { x0: 7, x1: 104, y0: 32, y1: 356, baseX: 77, baseY: 333 }, [
  ["D", 0, 0, 62], ["→", 38, 4, 44, arrowFont], ["K", 85, 0, 62], ["o", 122, -18, 46], ["S", 148, 16, 40],
  ["π", 168, 0, 66, serifPi], ["+", 197, -23, 34], ["π", 213, 0, 66, serifPi], ["-", 256, -26, 40]
]);
decayBox("#0000ff", { x0: 8, x1: 105, y0: 550, y1: 874, baseX: 78.5, baseY: 852 }, [
  ["D", 0, 0, 62], ["→", 40, 4, 44, arrowFont], ["K", 87, 0, 62], ["o", 122, -18, 46], ["S", 148, 16, 40],
  ["K", 170, 0, 62], ["+", 207, -23, 34], ["K", 225, 0, 62], ["-", 262, -26, 40]
]);

// stray marks in the source image
svg.append("text").attr("x", 666).attr("y", 537).attr("font-size", 14).attr("font-family", "Liberation Serif").text("`");
svg.append("path").attr("d", "M1812,0Q1822,4 1833,0").attr("fill", "none").attr("stroke", "#111").attr("stroke-width", 2);
</script>
</body>
</html>
